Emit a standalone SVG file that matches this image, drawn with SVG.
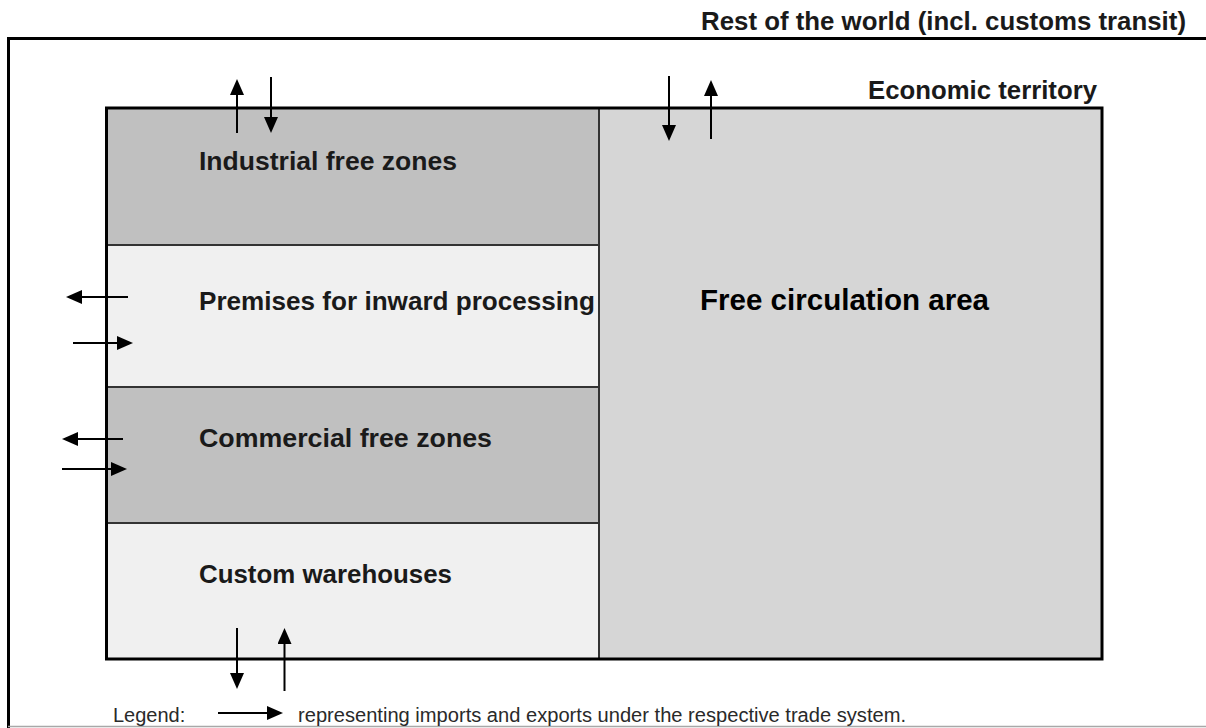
<svg xmlns="http://www.w3.org/2000/svg" width="1206" height="728" viewBox="0 0 1206 728">
<style>
.lbl{font-family:"Liberation Sans",Arial,sans-serif;font-weight:bold;font-size:26px;fill:#1a1a1a}
.main{font-family:"Liberation Sans",Arial,sans-serif;font-weight:bold;font-size:29.5px;fill:#000}
.leg{font-family:"Liberation Sans",Arial,sans-serif;font-size:20px;fill:#2a2a2a}
.div{stroke:#333;stroke-width:2;fill:none}
.arr{stroke:#000;stroke-width:2;fill:none;marker-end:url(#ah)}
</style>
<defs>
<marker id="ah" markerUnits="userSpaceOnUse" markerWidth="16" markerHeight="14" refX="10" refY="7" orient="auto">
<path d="M0,0 L16,7 L0,14 z" fill="#000"/>
</marker>
</defs>
<rect width="1206" height="728" fill="#fff"/>
<g id="rest-of-world">
<line x1="7" y1="38.5" x2="1206" y2="38.5" stroke="#000" stroke-width="3"/>
<line x1="8.5" y1="37" x2="8.5" y2="728" stroke="#000" stroke-width="3"/>
<line x1="8" y1="726.5" x2="1206" y2="726.5" stroke="#a8a8a8" stroke-width="1.5"/>
<text class="lbl" x="701" y="30" textLength="485" lengthAdjust="spacingAndGlyphs">Rest of the world (incl. customs transit)</text>
</g>
<g id="free-circulation">
<rect x="599" y="108" width="503" height="551" fill="#d6d6d6"/>
<text class="main" x="700" y="310" textLength="289" lengthAdjust="spacingAndGlyphs">Free circulation area</text>
</g>
<g id="industrial">
<rect x="106.5" y="108" width="492.5" height="137" fill="#c0c0c0"/>
<text class="lbl" x="199" y="170" textLength="258" lengthAdjust="spacingAndGlyphs">Industrial free zones</text>
</g>
<g id="premises">
<rect x="106.5" y="245" width="492.5" height="142" fill="#f0f0f0"/>
<text class="lbl" x="199" y="310" textLength="396" lengthAdjust="spacingAndGlyphs">Premises for inward processing</text>
</g>
<g id="commercial">
<rect x="106.5" y="387" width="492.5" height="136" fill="#c0c0c0"/>
<text class="lbl" x="199" y="447" textLength="293" lengthAdjust="spacingAndGlyphs">Commercial free zones</text>
</g>
<g id="warehouses">
<rect x="106.5" y="523" width="492.5" height="136" fill="#f0f0f0"/>
<text class="lbl" x="199" y="583" textLength="253" lengthAdjust="spacingAndGlyphs">Custom warehouses</text>
</g>
<g id="economic-territory">
<line class="div" x1="106.5" y1="245" x2="599" y2="245"/>
<line class="div" x1="106.5" y1="387" x2="599" y2="387"/>
<line class="div" x1="106.5" y1="523" x2="599" y2="523"/>
<line class="div" x1="599" y1="108" x2="599" y2="659"/>
<rect x="106.5" y="108" width="995.5" height="551" fill="none" stroke="#000" stroke-width="3"/>
<text class="lbl" x="868" y="99" textLength="229" lengthAdjust="spacingAndGlyphs">Economic territory</text>
</g>
<g id="connectors">
<line class="arr" x1="237" y1="133" x2="237" y2="85"/>
<line class="arr" x1="271" y1="77" x2="271" y2="127"/>
<line class="arr" x1="669" y1="76" x2="669" y2="135"/>
<line class="arr" x1="711" y1="139" x2="711" y2="86"/>
<line class="arr" x1="128" y1="297" x2="72" y2="297"/>
<line class="arr" x1="73" y1="343" x2="127" y2="343"/>
<line class="arr" x1="123" y1="439" x2="68" y2="439"/>
<line class="arr" x1="62" y1="469" x2="121" y2="469"/>
<line class="arr" x1="237" y1="628" x2="237" y2="683"/>
<line class="arr" x1="284.5" y1="691" x2="284.5" y2="634"/>
</g>
<g id="legend">
<text class="leg" x="113" y="722">Legend:</text>
<line class="arr" x1="218" y1="713" x2="277" y2="713"/>
<text class="leg" x="298" y="722" textLength="608" lengthAdjust="spacingAndGlyphs">representing imports and exports under the respective trade system.</text>
</g>
</svg>
